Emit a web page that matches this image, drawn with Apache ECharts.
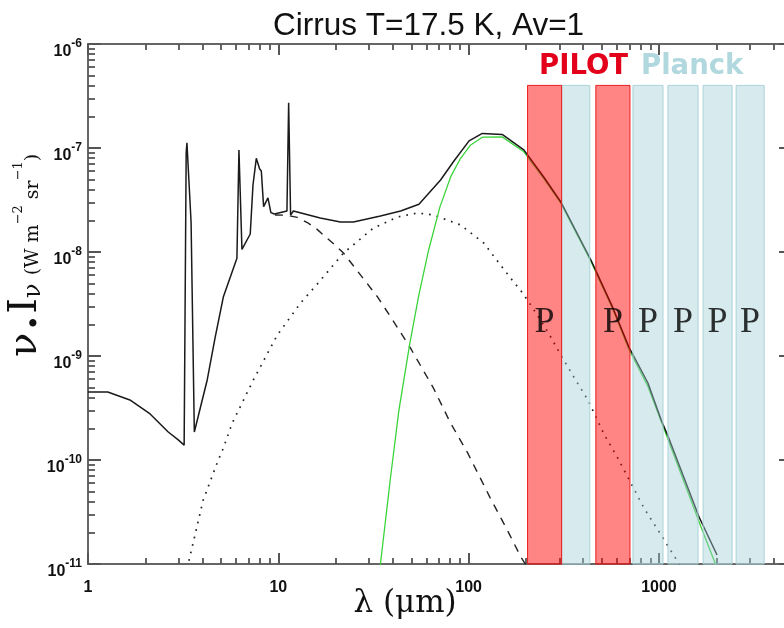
<!DOCTYPE html>
<html><head><meta charset="utf-8">
<script src="https://cdn.jsdelivr.net/npm/echarts@6/dist/echarts.min.js"></script>
<style>html,body{margin:0;padding:0;background:#fff;overflow:hidden}#c{width:784px;height:628px}</style>
</head><body><div id="c"></div>
<script>
// ---- data (wavelength in micron, nu*I_nu in W m^-2 sr^-1) ----
const totalLambda = [1.0,1.27,1.66,2.12,2.64,2.98,3.20,3.28,3.31,3.48,3.62,4.23,4.66,5.14,6.06,6.21,6.44,7.12,7.36,7.66,7.98,8.14,8.37,8.82,9.14,9.53,11.1,11.33,11.6,12.0,16.6,21.2,24.8,34.4,43.9,54.8,71.2,83.7,100.5,118,150,195,248,305,439,573,695,875,1025,1115,1624,2019];
const totalFlux   = [4.5e-10,4.5e-10,3.78e-10,2.77e-10,1.86e-10,1.56e-10,1.39e-10,9.0e-8,1.12e-7,1.94e-8,1.86e-10,5.88e-10,1.52e-9,3.69e-9,8.7e-9,9.57e-8,1.06e-8,1.49e-8,4.41e-8,7.96e-8,6.28e-8,6.0e-8,2.73e-8,3.31e-8,2.39e-8,2.32e-8,2.48e-8,2.72e-7,2.27e-8,2.48e-8,2.12e-8,1.94e-8,1.94e-8,2.22e-8,2.48e-8,2.88e-8,4.92e-8,7.5e-8,1.17e-7,1.38e-7,1.35e-7,9.6e-8,5.26e-8,3.03e-8,8.38e-9,2.9e-9,1.22e-9,5.5e-10,2.45e-10,1.7e-10,2.83e-11,1.22e-11];

const bgLambda = [33.5,34.4,38.9,43.0,49.0,54.8,61.6,70.6,80.5,90.7,102.5,118,150,195,248,305,439,573,695,875,1115,1663,1972,2000];
const bgFlux   = [6.8e-12,1.0e-11,6.9e-11,3.0e-10,1.3e-9,3.9e-9,1.04e-8,2.7e-8,5.3e-8,7.96e-8,1.07e-7,1.27e-7,1.28e-7,9.2e-8,5.1e-8,2.95e-8,8.1e-9,2.8e-9,1.16e-9,5.1e-10,1.58e-10,2.27e-11,1.02e-11,9.6e-12];

const pahLambda = [9.6,11.0,12.6,14.2,16.0,17.3,19.5,22.0,26.5,33.2,40.0,49.5,65.0,80.0,98.8,130,160,188,200];
const pahFlux   = [2.27e-8,2.26e-8,2.15e-8,1.92e-8,1.65e-8,1.45e-8,1.2e-8,9.77e-9,6.3e-9,3.7e-9,2.2e-9,1.19e-9,5.0e-10,2.3e-10,1.17e-10,4.3e-11,2.1e-11,1.17e-11,9.8e-12];

const vsgLambda = [3.25,3.36,4.03,4.77,5.14,5.73,7.39,9.88,13.1,16.2,22.0,31.6,42.3,53.9,65.4,90.7,120,147,166,192,217,261,305,357,423,514,608,712,834,1050,1259,1300];
const vsgFlux   = [7.7e-12,1.0e-11,4.12e-11,9.35e-11,1.30e-10,2.27e-10,5.88e-10,1.59e-9,3.24e-9,5.03e-9,9.77e-9,1.70e-8,2.17e-8,2.37e-8,2.27e-8,1.82e-8,1.22e-8,7.5e-9,5.62e-9,4.04e-9,2.9e-9,1.7e-9,1.02e-9,6.28e-10,3.78e-10,1.78e-10,1.04e-10,6.01e-11,3.45e-11,1.78e-11,1.04e-11,9.3e-12];

// instrument bands [lambdaMin, lambdaMax] in micron
const pilotBands  = [[204,308],[466,704]];
const planckBands = [[308,433],[730,1050],[1115,1604],[1705,2423],[2542,3570]];
const bandTopFlux = 4.0e-7;
const pLabelFlux  = 2.1e-9;
const pLabelBands = [pilotBands[0], pilotBands[1], planckBands[1], planckBands[2], planckBands[3], planckBands[4]];

// axes
const xMin = 1, xMax = 5000;
const yMinFlux = 1e-11, yMaxFlux = 1e-6;
const xTickLabels = ['1','10','100','1000'];
const UNIT = 1e-12; // y plotted in units of 1e-12 W m^-2 sr^-1

const toPairs = (xs, ys) => xs.map((x, i) => [x, ys[i] / UNIT]);

const chart = echarts.init(document.getElementById('c'), null, {renderer: 'canvas'});

const axisLineStyle = {color: '#666', width: 2};
const majorTickStyle = {color: '#555', width: 2};
const minorTickStyle = {color: '#555', width: 1.8};
function makeX(pos, showLabel) {
  return {
    type: 'log', min: xMin, max: xMax, position: pos,
    axisLine: {show: true, onZero: false, lineStyle: axisLineStyle},
    axisTick: {show: true, inside: true, length: 11, lineStyle: majorTickStyle},
    minorTick: {show: true, splitNumber: 9, length: 6, lineStyle: minorTickStyle},
    splitLine: {show: false}, minorSplitLine: {show: false},
    axisLabel: {
      show: showLabel, margin: 16, showMaxLabel: false,
      fontFamily: 'Liberation Sans', fontSize: 16, fontWeight: 'bold', color: '#111',
      formatter: v => { const e = Math.log10(v); const r = Math.round(e);
        const s = String(Math.pow(10, r));
        return (Math.abs(e - r) < 1e-6 && xTickLabels.indexOf(s) >= 0) ? s : ''; }
    }
  };
}
function makeY(pos, showLabel) {
  return {
    type: 'log', min: yMinFlux / UNIT, max: yMaxFlux / UNIT, position: pos,
    axisLine: {show: true, onZero: false, lineStyle: axisLineStyle},
    axisTick: {show: true, inside: true, length: 13, lineStyle: majorTickStyle},
    minorTick: {show: true, splitNumber: 9, length: 7, lineStyle: minorTickStyle},
    splitLine: {show: false}, minorSplitLine: {show: false},
    axisLabel: {
      show: showLabel, margin: 6,
      formatter: v => { const e = Math.round(Math.log10(v * UNIT)); return '{b|10}{s|' + e + '}'; },
      rich: {
        b: {fontFamily: 'Liberation Sans', fontSize: 16, fontWeight: 'bold', color: '#111', padding: [16, 0, 0, 0], verticalAlign: 'middle'},
        s: {fontFamily: 'Liberation Sans', fontSize: 12, fontWeight: 'bold', color: '#111', verticalAlign: 'middle'}
      }
    }
  };
}

function bandSeries(bands, fill, stroke) {
  return {
    type: 'custom', xAxisIndex: 0, yAxisIndex: 1, z: 4, silent: true,
    data: bands.map(b => [b[0], b[1], bandTopFlux / UNIT, yMinFlux / UNIT]),
    renderItem: (params, api) => {
      const p0 = api.coord([api.value(0), api.value(2)]);
      const p1 = api.coord([api.value(1), api.value(3)]);
      return {type: 'rect', shape: {x: p0[0], y: p0[1], width: p1[0] - p0[0], height: p1[1] - p0[1]},
              style: {fill: fill, stroke: stroke, lineWidth: 1}};
    }
  };
}

const lineBase = {type: 'line', showSymbol: false, symbol: 'none', xAxisIndex: 0, yAxisIndex: 1, z: 2, silent: true};

const option = {
  animation: false,
  backgroundColor: '#fff',
  title: {text: 'Cirrus T=17.5 K, Av=1', left: 273, top: 10, padding: 0,
          textStyle: {fontFamily: 'Liberation Sans', fontSize: 31.5, fontWeight: 'normal', color: '#111'}},
  grid: {left: 88, top: 44, right: -8, bottom: 64, outerBoundsMode: 'none'},
  xAxis: [makeX('bottom', true), makeX('top', false)],
  yAxis: [makeY('right', false), makeY('left', true)],
  series: [
    Object.assign({}, lineBase, {name: 'PAH', data: toPairs(pahLambda, pahFlux),
      lineStyle: {color: '#222', width: 1.4, type: [8, 7]}}),
    Object.assign({}, lineBase, {name: 'VSG', data: toPairs(vsgLambda, vsgFlux),
      lineStyle: {color: '#222', width: 1.7, type: [1.7, 6]}}),
    Object.assign({}, lineBase, {name: 'BG', data: toPairs(bgLambda, bgFlux),
      lineStyle: {color: '#3ad43a', width: 1.3}}),
    Object.assign({}, lineBase, {name: 'Total', data: toPairs(totalLambda, totalFlux),
      lineStyle: {color: '#1a1a1a', width: 1.5}}),
    bandSeries(planckBands, 'rgba(160,205,212,0.42)', '#a9d3d9'),
    bandSeries(pilotBands, 'rgba(255,0,0,0.48)', '#e81c1c'),
    {
      type: 'scatter', xAxisIndex: 0, yAxisIndex: 1, z: 6, silent: true,
      symbolSize: 1, itemStyle: {color: 'rgba(0,0,0,0)'},
      data: pLabelBands.map(b => [Math.sqrt(b[0] * b[1]), pLabelFlux / UNIT]),
      label: {show: true, position: 'inside', formatter: 'P', fontFamily: 'Liberation Serif',
              fontSize: 36, color: '#000'}
    }
  ],
  graphic: [
    {type: 'text', x: 539, y: 67, z: 10, silent: true,
     style: {text: 'PILOT', fontFamily: 'DejaVu Sans', fontSize: 27.5, fontWeight: 'bold', fill: '#e2001a', align: 'left', verticalAlign: 'middle'}},
    {type: 'text', x: 641, y: 67, z: 10, silent: true,
     style: {text: 'Planck', fontFamily: 'DejaVu Sans', fontSize: 27.5, fontWeight: 'bold', fill: '#b0d8de', align: 'left', verticalAlign: 'middle'}},
    {type: 'text', x: 26, y: 357, rotation: Math.PI / 2, z: 10, silent: true,
     style: {
       text: '{nu|ν}{dot|.}{I|I}{sub|ν}{p|(W m}{sup|−2}{p| sr}{sup|−1}{p|)}',
       fill: '#111', align: 'left', verticalAlign: 'middle',
       rich: {
         nu:  {fontFamily: 'DejaVu Serif', fontSize: 40, padding: [0, 3, 0, 0], verticalAlign: 'middle'},
         dot: {fontFamily: 'DejaVu Serif', fontSize: 40, fontWeight: 'bold', padding: [0, 2, 0, 0], verticalAlign: 'middle'},
         I:   {fontFamily: 'DejaVu Serif', fontSize: 40, verticalAlign: 'middle'},
         sub: {fontFamily: 'DejaVu Serif', fontSize: 24, padding: [0, 8, 0, 0], verticalAlign: 'bottom'},
         p:   {fontFamily: 'DejaVu Serif', fontSize: 19, padding: [0, 0, 3, 0], verticalAlign: 'bottom'},
         sup: {fontFamily: 'DejaVu Serif', fontSize: 13, padding: [6, 0, 0, 0], verticalAlign: 'top'}
       }
     }},
    {type: 'text', x: 405, y: 604, z: 10, silent: true,
     style: {text: 'λ (μm)', fontFamily: 'DejaVu Serif', fontSize: 31, fill: '#111', align: 'center', verticalAlign: 'middle'}}
  ]
};
chart.setOption(option);
</script>
</body></html>
